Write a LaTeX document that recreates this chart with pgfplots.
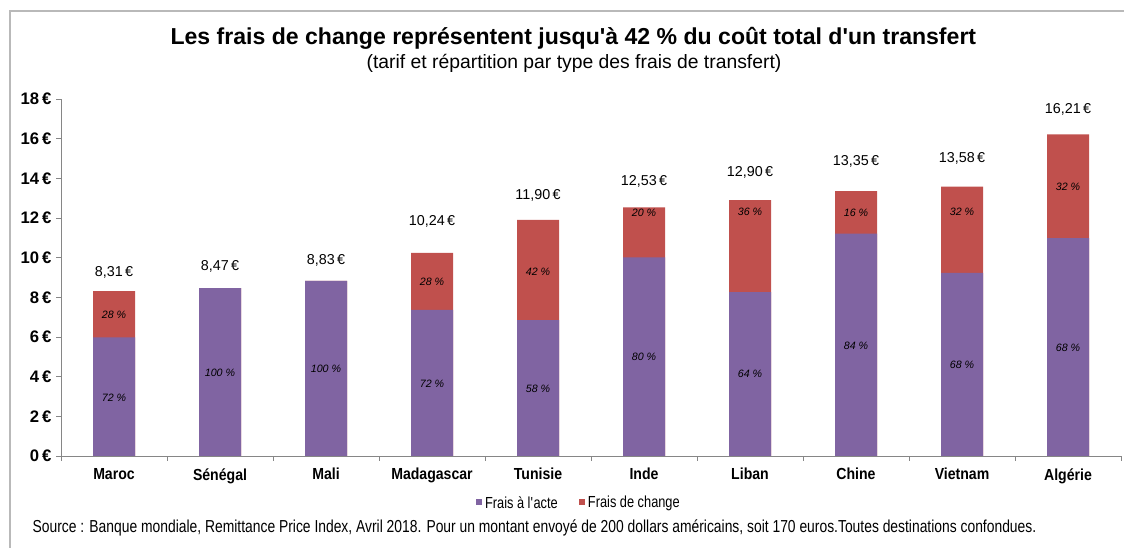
\documentclass[border=0pt]{standalone}
\usepackage{fontspec}
\setmainfont{Liberation Sans}
\newfontfamily\narrow{Liberation Sans}[FakeStretch=0.88]
\newfontfamily\condensed{Liberation Sans}[FakeStretch=0.8]
\usepackage{pgfplots}
\usepackage{pgfplotstable}
\pgfplotsset{compat=1.18}
\definecolor{acte}{HTML}{8064A2}
\definecolor{change}{HTML}{C0504D}
\definecolor{axgray}{HTML}{868686}

% x: categorie, total: cout total, acte: frais a l'acte, pa: part acte,
% ly: position du libelle %, ty: position du libelle total
\pgfplotstableread{
x total acte pa ly ty
0 8.31 5.98 72 2.94 9.28
1 8.47 8.47 100 4.19 9.58
2 8.83 8.83 100 4.39 9.88
3 10.24 7.37 72 3.63 11.82
4 11.90 6.85 58 3.38 13.13
5 12.53 10.02 80 4.99 13.82
6 12.90 8.26 64 4.13 14.29
7 13.35 11.21 84 5.56 14.84
8 13.58 9.23 68 4.59 14.98
9 16.21 10.98 68 5.46 17.45
}\couts

% part des frais de change (pays concernes)
\pgfplotstableread{
x pc ly
0 28 7.11
3 28 8.79
4 42 9.29
5 20 12.25
6 36 12.30
7 16 12.25
8 32 12.30
9 32 13.57
}\change

\newcommand{\q}{\textquotesingle}

\begin{document}
\begin{tikzpicture}
\useasboundingbox (0,0) rectangle (843pt,411pt);
\draw[gray!55, line width=0.8pt] (7.5pt,0) -- (7.5pt,402.75pt) -- (843pt,402.75pt);

\node[font=\bfseries\fontsize{17.3}{19}\selectfont] at (430pt,382.5pt)
  {Les frais de change représentent jusqu\q à 42~\% du coût total d\q un transfert};
\node[font=\fontsize{14.5}{16}\selectfont] at (430.5pt,363.5pt)
  {(tarif et répartition par type des frais de transfert)};
\node[font=\condensed\fontsize{13}{15}\selectfont, anchor=west] at (21pt,15pt)
  {Source~: Banque mondiale, Remittance Price Index, Avril 2018. Pour un montant envoyé de 200 dollars américains, soit 170 euros.Toutes destinations confondues.};

\begin{axis}[
    at={(45.75pt,69pt)}, anchor=south west,
    scale only axis,
    width=795pt, height=267.75pt,
    xmin=-0.5, xmax=9.5,
    ymin=0, ymax=18,
    axis x line*=bottom, axis y line*=left,
    axis line style={axgray, line width=0.6pt},
    tick align=outside,
    major tick length=3.75pt, minor tick length=3.75pt,
    xtick={0,...,9},
    xticklabels={Maroc,Sénégal,Mali,Madagascar,Tunisie,Inde,Liban,Chine,Vietnam,Algérie},
    xticklabel style={font=\narrow\bfseries\fontsize{12}{13}\selectfont, yshift=-2pt},
    major x tick style={draw=none},
    minor xtick={-0.5,0.5,...,9.5},
    minor x tick style={axgray, line width=0.6pt},
    ytick={0,2,...,18},
    ytick style={axgray, line width=0.6pt},
    /pgf/number format/assume math mode=true,
    yticklabel={\textbf{\pgfmathprintnumber{\tick}\,€}},
    yticklabel style={font=\fontsize{12.5}{13}\selectfont},
    bar width=31.5pt,
    legend style={at={(0.489,-0.132)}, anchor=center, draw=none,
      font=\condensed\fontsize{12}{13}\selectfont, legend columns=2,
      /tikz/every even column/.append style={column sep=14pt}},
    legend image code/.code={\path[#1] (0pt,-1.4pt) rectangle (4.6pt,3.2pt);},
]
\addlegendimage{fill=acte, draw=none}
\addlegendentry{Frais à l\q acte}
\addlegendimage{fill=change, draw=none}
\addlegendentry{Frais de change}

% total (fond rouge), puis frais a l'acte par-dessus
\addplot[ybar, bar shift=0pt, fill=change, draw=none, forget plot]
  table[x=x, y=total] {\couts};
\addplot[ybar, bar shift=0pt, fill=acte, draw=none, forget plot]
  table[x=x, y=acte] {\couts};

% libelles
\addplot[only marks, mark=none, forget plot,
  point meta=\thisrow{total},
  nodes near coords={\pgfmathprintnumber[fixed, fixed zerofill, precision=2, use comma]{\pgfplotspointmeta}\,€},
  every node near coord/.append style={anchor=center, inner sep=0pt,
    font=\fontsize{10.75}{12}\selectfont}]
  table[x=x, y=ty] {\couts};
\addplot[only marks, mark=none, forget plot,
  point meta=\thisrow{pa},
  nodes near coords={\pgfmathprintnumber[fixed, precision=0]{\pgfplotspointmeta}~\%},
  every node near coord/.append style={anchor=center, inner sep=0pt,
    font=\itshape\fontsize{8}{9}\selectfont, text=black}]
  table[x=x, y=ly] {\couts};
\addplot[only marks, mark=none, forget plot,
  point meta=\thisrow{pc},
  nodes near coords={\pgfmathprintnumber[fixed, precision=0]{\pgfplotspointmeta}~\%},
  every node near coord/.append style={anchor=center, inner sep=0pt,
    font=\itshape\fontsize{8}{9}\selectfont, text=black}]
  table[x=x, y=ly] {\change};
\end{axis}
\end{tikzpicture}
\end{document}
